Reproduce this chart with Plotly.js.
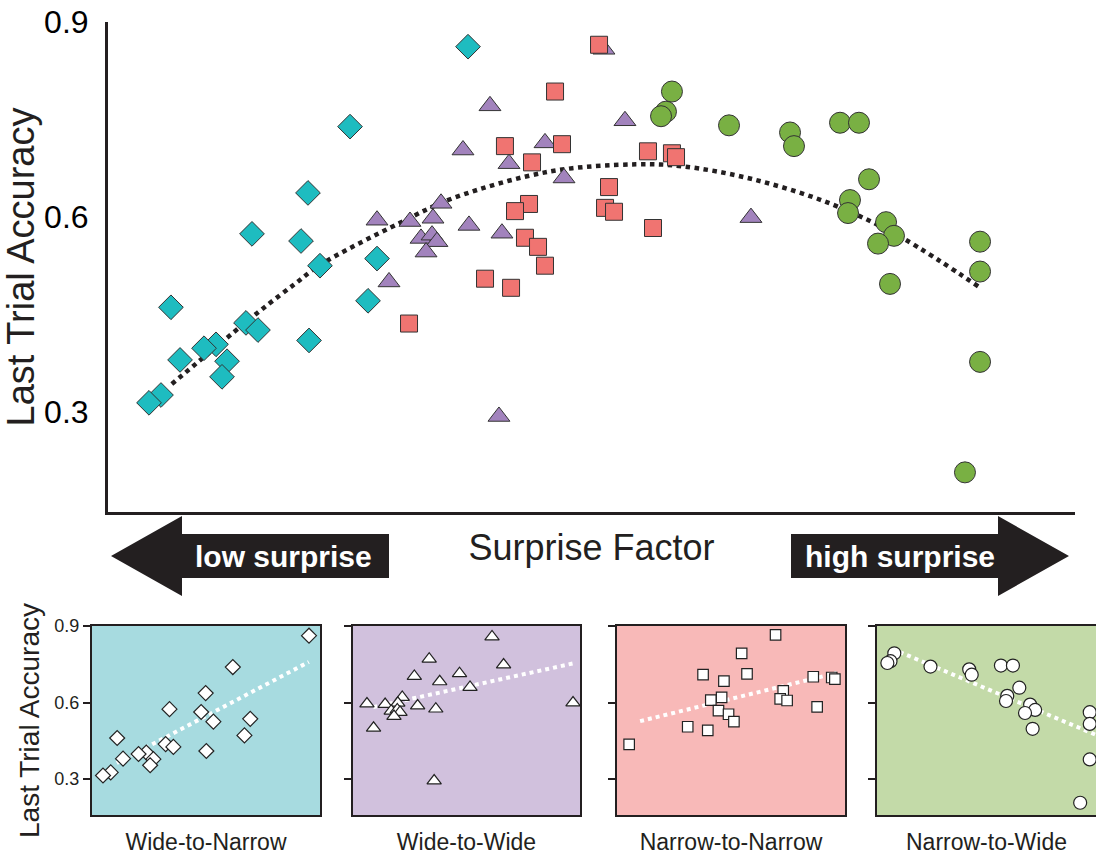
<!DOCTYPE html>
<html><head><meta charset="utf-8">
<script src="https://cdn.plot.ly/plotly-3.0.1.min.js"></script>
<style>html,body{margin:0;padding:0;background:#fff;overflow:hidden}#chart{width:1096px;height:857px}</style>
</head><body><div id="chart"></div>
<script>
// ---------------- data (surprise factor in arbitrary units 0-100, accuracy 0-1) ----------------
const groupNames = ['Wide-to-Narrow', 'Wide-to-Wide', 'Narrow-to-Narrow', 'Narrow-to-Wide'];

const wideNarrowX = [37.23, 25.03, 20.68, 14.89, 19.96, 27.82, 21.92, 26.89, 6.51, 14.27, 15.51, 20.79, 11.17, 9.93, 7.45, 12.31, 11.79, 5.48, 4.24];
const wideNarrowY = [0.862, 0.739, 0.637, 0.574, 0.563, 0.536, 0.525, 0.471, 0.461, 0.437, 0.426, 0.410, 0.404, 0.398, 0.380, 0.378, 0.354, 0.326, 0.314];

const wideWideX = [51.29, 39.50, 53.46, 45.19, 36.71, 41.47, 47.16, 34.44, 27.82, 31.23, 33.61, 37.33, 40.74, 32.37, 33.51, 34.02, 32.89, 29.06, 66.49, 40.43];
const wideWideY = [0.858, 0.771, 0.748, 0.714, 0.703, 0.682, 0.660, 0.621, 0.595, 0.593, 0.598, 0.587, 0.575, 0.567, 0.572, 0.562, 0.546, 0.500, 0.599, 0.293];

const narrowNarrowX = [50.78, 46.23, 41.05, 46.95, 43.85, 55.84, 58.32, 58.74, 51.81, 51.40, 52.33, 43.54, 42.09, 56.36, 43.12, 44.47, 45.19, 38.99, 41.68, 31.13];
const narrowNarrowY = [0.865, 0.793, 0.709, 0.712, 0.684, 0.701, 0.698, 0.692, 0.646, 0.614, 0.608, 0.620, 0.609, 0.583, 0.568, 0.554, 0.525, 0.505, 0.491, 0.436];

const narrowWideX = [58.32, 57.70, 57.19, 64.22, 70.53, 70.94, 75.70, 77.66, 78.70, 76.73, 76.53, 80.46, 81.28, 79.63, 80.87, 90.18, 90.18, 90.18, 88.62];
const narrowWideY = [0.793, 0.762, 0.755, 0.741, 0.730, 0.709, 0.745, 0.745, 0.658, 0.626, 0.606, 0.592, 0.571, 0.559, 0.497, 0.562, 0.516, 0.377, 0.207];

// overall quadratic trend
const trendX = [6.6, 15.5, 19.5, 21.8, 30.2, 35.7, 45.7, 54.6, 59.4, 66.7, 74.8, 82.1, 90.2];
const trendY = [0.343, 0.453, 0.499, 0.525, 0.591, 0.629, 0.670, 0.681, 0.678, 0.658, 0.620, 0.568, 0.491];

// per-group linear trends (start, end)
const trendWideNarrowX = [6.45, 37.2];   const trendWideNarrowY = [0.363, 0.759];
const trendWideWideX = [29.0, 66.9];     const trendWideWideY = [0.582, 0.755];
const trendNarrowNarrowX = [32.6, 59.0]; const trendNarrowNarrowY = [0.527, 0.716];
const trendNarrowWideX = [59.2, 91.2];   const trendNarrowWideY = [0.798, 0.473];

const yTickVals = [0.3, 0.6, 0.9];
const yTickText = ['0.3', '0.6', '0.9'];

// ---------------- styling ----------------
const W = 1096, H = 857;
const INK = '#231f20';
const FONT = 'Liberation Sans, Arial, Helvetica, sans-serif';
const fills = ['#1ebcc0', '#a283bd', '#f07471', '#79b043'];
const panelBg = ['#a7dbe0', '#d1c1dd', '#f8b9b8', '#c3daa8'];
const symbols = ['diamond', 'triangle-up', 'square', 'circle'];
const mainSizes = [19, 19, 17, 21];
const subSizes = [11.5, 12.5, 10.5, 13];

const groupX = [wideNarrowX, wideWideX, narrowNarrowX, narrowWideX];
const groupY = [wideNarrowY, wideWideY, narrowNarrowY, narrowWideY];
const gTrendX = [trendWideNarrowX, trendWideWideX, trendNarrowNarrowX, trendNarrowWideX];
const gTrendY = [trendWideNarrowY, trendWideWideY, trendNarrowNarrowY, trendNarrowWideY];

// pixel helpers for layout geometry
const fx = px => px / W;
const fy = py => 1 - py / H;

const traces = [];
// main trend line (drawn beneath markers)
traces.push({x: trendX, y: trendY, xaxis: 'x', yaxis: 'y', mode: 'lines', hoverinfo: 'skip',
  line: {color: INK, width: 4.5, dash: 'dot', shape: 'spline', smoothing: 1}});
for (let g = 0; g < 4; g++) {
  traces.push({x: groupX[g], y: groupY[g], xaxis: 'x', yaxis: 'y', mode: 'markers', name: groupNames[g],
    marker: {symbol: symbols[g], size: mainSizes[g], color: fills[g], line: {color: '#333333', width: 1}}});
}
for (let g = 0; g < 4; g++) {
  const xa = 'x' + (g + 2), ya = 'y' + (g + 2);
  traces.push({x: gTrendX[g], y: gTrendY[g], xaxis: xa, yaxis: ya, mode: 'lines', hoverinfo: 'skip',
    line: {color: '#ffffff', width: 4, dash: 'dot'}});
  traces.push({x: groupX[g], y: groupY[g], xaxis: xa, yaxis: ya, mode: 'markers', name: groupNames[g],
    marker: {symbol: symbols[g], size: subSizes[g], color: '#ffffff', line: {color: '#222222', width: 1.2}}});
}

// panel geometry (pixels)
const panelsPx = [[92, 320], [353, 580], [617, 845], [877, 1096]];
const panelTop = 626, panelBottom = 815;
const subRanges = [[2.48, 38.99], [25.2, 67.8], [29.5, 60.1], [55.5, 91.2]];

const layout = {
  width: W, height: H,
  margin: {l: 0, r: 0, t: 0, b: 0},
  paper_bgcolor: '#ffffff', plot_bgcolor: 'rgba(0,0,0,0)',
  showlegend: false,
  font: {family: FONT, color: INK},
  xaxis: {domain: [fx(108), fx(1075)], range: [0, 100], showline: true, linewidth: 3, linecolor: INK,
    showticklabels: false, ticks: '', showgrid: false, zeroline: false, fixedrange: true,
    title: {text: 'Surprise Factor', font: {size: 36, color: INK}, standoff: 21}},
  yaxis: {domain: [fy(512), fy(22)], range: [0.146, 0.9], showline: true, linewidth: 3, linecolor: INK,
    tickvals: yTickVals, ticktext: yTickText, ticks: '', tickfont: {size: 32, color: '#000'},
    ticklabelstandoff: 10, showgrid: false, zeroline: false, fixedrange: true,
    title: {text: 'Last Trial Accuracy', font: {size: 38, color: INK}, standoff: 4}},
  shapes: [],
  annotations: []
};

for (let g = 0; g < 4; g++) {
  const n = g + 2;
  layout['xaxis' + n] = {domain: [fx(panelsPx[g][0]), fx(panelsPx[g][1])], range: subRanges[g], anchor: 'y' + n,
    showline: true, mirror: true, linewidth: 2, linecolor: INK, ticks: '', showticklabels: false,
    showgrid: false, zeroline: false, fixedrange: true,
    title: {text: groupNames[g], font: {size: 23, color: INK}, standoff: 18}};
  layout['yaxis' + n] = {domain: [fy(panelBottom), fy(panelTop)], range: [0.159, 0.9], anchor: 'x' + n,
    showline: true, mirror: g < 3, linewidth: 2, linecolor: INK, tickvals: yTickVals, ticktext: yTickText,
    ticks: 'outside', ticklen: 7, tickwidth: 2, tickcolor: INK, showticklabels: g === 0,
    tickfont: {size: 18, color: INK}, showgrid: false, zeroline: false, fixedrange: true,
    title: g === 0 ? {text: 'Last Trial Accuracy', font: {size: 28, color: INK}, standoff: 7} : {text: ''}};
  layout.shapes.push({type: 'rect', xref: 'x' + n + ' domain', yref: 'y' + n + ' domain', x0: 0, x1: 1, y0: 0, y1: 1,
    fillcolor: panelBg[g], line: {width: 0}, layer: 'below'});
}

// direction arrows
const P = (x, y) => fx(x) + ',' + fy(y);
const aMid = 556, headHalf = 40, bodyHalf = 22;
const leftArrow = 'M' + P(111, aMid) + ' L' + P(182, aMid - headHalf) + ' L' + P(182, aMid - bodyHalf) +
  ' L' + P(389, aMid - bodyHalf) + ' L' + P(389, aMid + bodyHalf) + ' L' + P(182, aMid + bodyHalf) +
  ' L' + P(182, aMid + headHalf) + ' Z';
const rightArrow = 'M' + P(791, aMid - bodyHalf) + ' L' + P(998, aMid - bodyHalf) + ' L' + P(998, aMid - headHalf) +
  ' L' + P(1069, aMid) + ' L' + P(998, aMid + headHalf) + ' L' + P(998, aMid + bodyHalf) +
  ' L' + P(791, aMid + bodyHalf) + ' Z';
layout.shapes.push({type: 'path', xref: 'paper', yref: 'paper', path: leftArrow, fillcolor: INK, line: {width: 0}});
layout.shapes.push({type: 'path', xref: 'paper', yref: 'paper', path: rightArrow, fillcolor: INK, line: {width: 0}});
layout.annotations.push({xref: 'paper', yref: 'paper', x: fx(283), y: fy(aMid), text: '<b>low surprise</b>',
  showarrow: false, xanchor: 'center', yanchor: 'middle', font: {size: 30, color: '#ffffff', family: FONT}});
layout.annotations.push({xref: 'paper', yref: 'paper', x: fx(900), y: fy(aMid), text: '<b>high surprise</b>',
  showarrow: false, xanchor: 'center', yanchor: 'middle', font: {size: 30, color: '#ffffff', family: FONT}});

Plotly.newPlot('chart', traces, layout, {displayModeBar: false, staticPlot: true});
</script>
</body></html>
